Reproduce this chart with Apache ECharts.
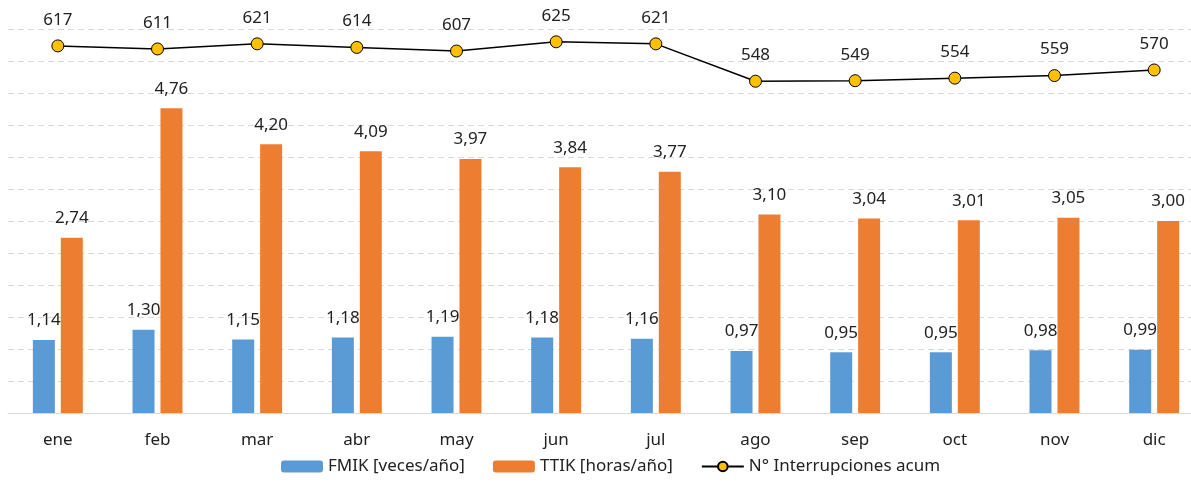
<!DOCTYPE html>
<html>
<head>
<meta charset="utf-8">
<script src="https://cdn.jsdelivr.net/npm/echarts@6/dist/echarts.min.js"></script>
<style>
  html, body { margin: 0; padding: 0; background: #fff; }
  #chart { width: 1191px; height: 483px; }
</style>
</head>
<body>
<div id="chart"></div>
<script>
// data
const months = ['ene', 'feb', 'mar', 'abr', 'may', 'jun', 'jul', 'ago', 'sep', 'oct', 'nov', 'dic'];
const fmik = [1.14, 1.30, 1.15, 1.18, 1.19, 1.18, 1.16, 0.97, 0.95, 0.95, 0.98, 0.99];
const ttik = [2.74, 4.76, 4.20, 4.09, 3.97, 3.84, 3.77, 3.10, 3.04, 3.01, 3.05, 3.00];
const interrupciones = [617, 611, 621, 614, 607, 625, 621, 548, 549, 554, 559, 570];

const FONT = 'Noto Sans';
const FS = 17;
const fmtComma = function (p) { return p.value.toFixed(2).replace('.', ','); };

let chart = echarts.init(document.getElementById('chart'));

let option = {
    animation: false,
    textStyle: { fontFamily: FONT },
    grid: { left: 8, width: 1196, top: 29, bottom: 70, outerBoundsMode: 'none' },
    legend: {
        bottom: 3,
        left: 276,
        itemWidth: 42,
        itemHeight: 12,
        itemGap: 28,
        textStyle: { fontSize: FS, color: '#222', fontFamily: FONT },
        data: ['FMIK [veces/año]', 'TTIK [horas/año]', 'N° Interrupciones acum']
    },
    xAxis: {
        type: 'category',
        data: months,
        axisLine: { lineStyle: { color: '#d9d9d9', width: 1 } },
        axisTick: { show: false },
        axisLabel: { fontSize: FS, color: '#222', margin: 19, fontFamily: FONT }
    },
    yAxis: [
        {
            type: 'value',
            min: 0,
            max: 6,
            interval: 0.5,
            axisLabel: { show: false },
            axisLine: { show: false },
            axisTick: { show: false },
            splitLine: { lineStyle: { color: '#d9d9d9', type: [6, 4] } }
        },
        {
            type: 'value',
            min: -100,
            max: 650,
            axisLabel: { show: false },
            axisLine: { show: false },
            axisTick: { show: false },
            splitLine: { show: false }
        }
    ],
    series: [
        {
            name: 'FMIK [veces/año]',
            type: 'bar',
            data: fmik,
            barWidth: 22,
            barGap: '27%',
            itemStyle: { color: '#5B9BD5' },
            label: {
                show: true, position: 'top', distance: 11,
                fontSize: FS, color: '#222', fontFamily: FONT,
                formatter: fmtComma
            }
        },
        {
            name: 'TTIK [horas/año]',
            type: 'bar',
            data: ttik,
            barWidth: 22,
            itemStyle: { color: '#ED7D31' },
            label: {
                show: true, position: 'top', distance: 11,
                fontSize: FS, color: '#222', fontFamily: FONT,
                formatter: fmtComma
            }
        },
        {
            name: 'N° Interrupciones acum',
            type: 'line',
            yAxisIndex: 1,
            data: interrupciones,
            symbol: 'circle',
            symbolSize: 12,
            lineStyle: { color: '#000', width: 1.5 },
            itemStyle: { color: '#FFC000', borderColor: '#000', borderWidth: 1 },
            label: {
                show: true, position: 'top', distance: 11,
                fontSize: FS, color: '#222', fontFamily: FONT
            }
        }
    ]
};

chart.setOption(option);
</script>
</body>
</html>
